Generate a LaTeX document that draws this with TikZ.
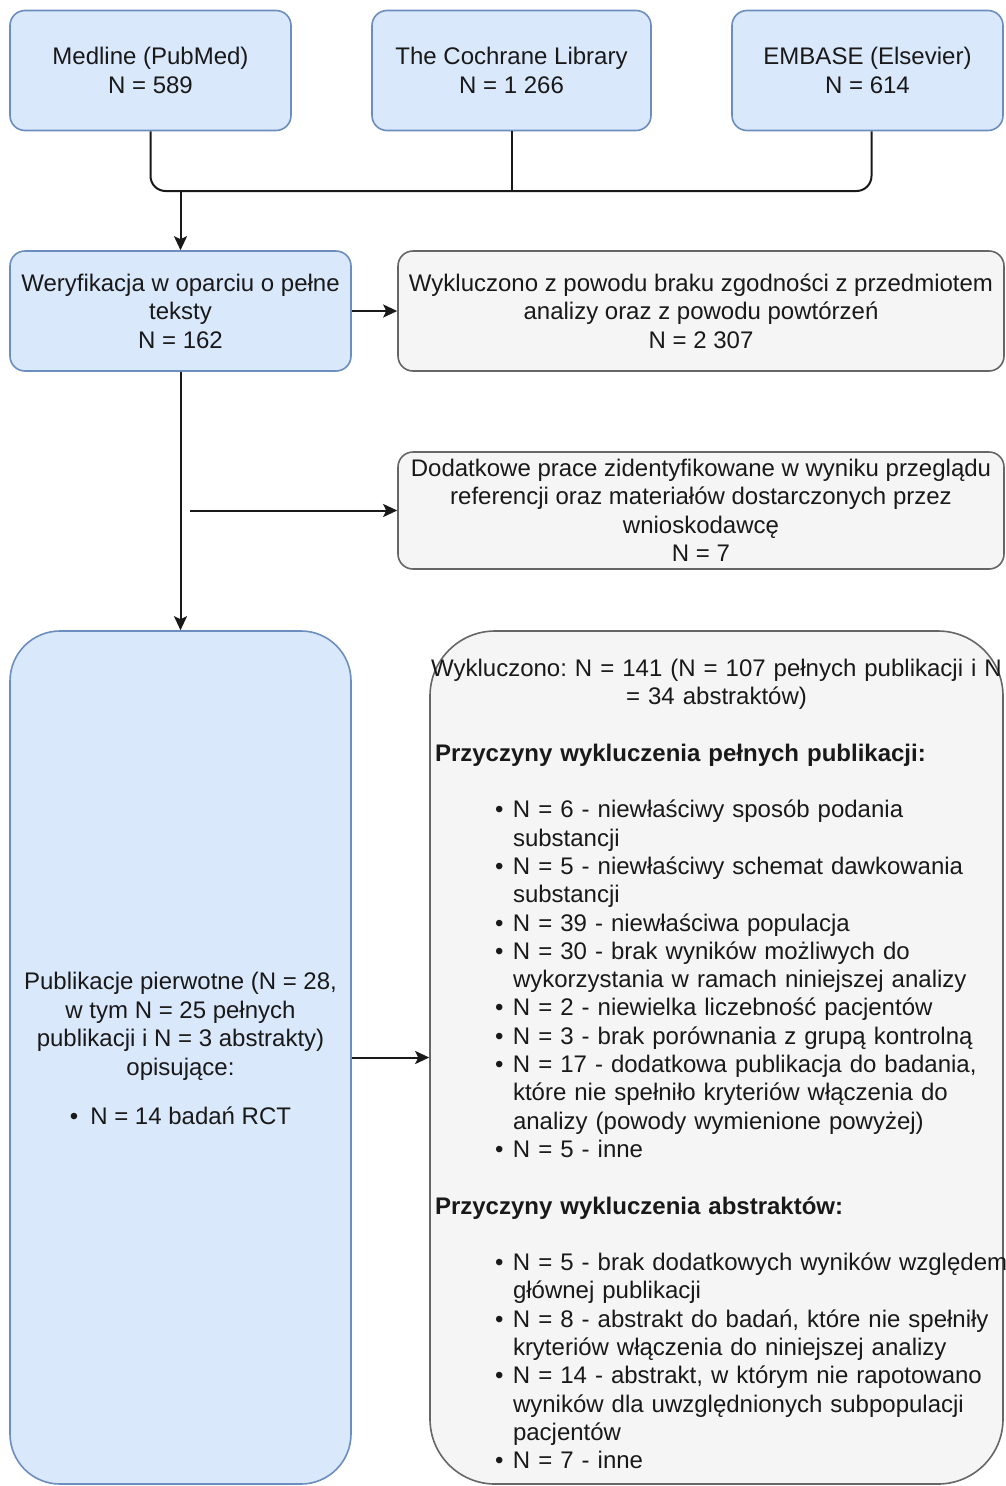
\documentclass[tikz,border=0pt]{standalone}
\usepackage{fontspec}
\setmainfont{Liberation Sans}
\usetikzlibrary{arrows.meta}
\usetikzlibrary{positioning}

\definecolor{boxblue}{HTML}{DAE8FC}
\definecolor{lineblue}{HTML}{6C8EBF}
\definecolor{boxgray}{HTML}{F5F5F5}
\definecolor{linegray}{HTML}{666666}

% bullet line and continuation line of the lists
\newcommand{\bul}[1]{\hspace*{60pt}\makebox[18pt][l]{\textbullet}\mbox{#1}}
\newcommand{\cont}[1]{\hspace*{78pt}\mbox{#1}}

\begin{document}
\frenchspacing
\begin{tikzpicture}[
        x = 1pt, y = -1pt,
        every node/.style = {font = \fontsize{24}{28.5}\selectfont, text = black!90},
        srcbox/.style = {draw = lineblue, fill = boxblue, line width = 1.6pt, rounded corners = 15pt, align = center, inner sep = 3pt},
        exclbox/.style = {draw = linegray, fill = boxgray, line width = 1.6pt, rounded corners = 15pt, align = center, inner sep = 3pt},
        conn/.style = {line width = 2pt, black!90},
        arr/.style = {conn, -{Stealth[length = 14pt, width = 13pt, inset = 3pt]}},
        ]
    \useasboundingbox (0,0) rectangle (1005,1486);

    % sources
    \node[srcbox, minimum width = 281, minimum height = 120] (med) at (150.5,70.5) {Medline (PubMed)\\N = 589};
    \node[srcbox, minimum width = 279, minimum height = 120] (coch) at (511.5,70.5) {The Cochrane Library\\N = 1 266};
    \node[srcbox, minimum width = 271, minimum height = 120] (emb) at (867.5,70.5) {EMBASE (Elsevier)\\N = 614};

    \node[srcbox, minimum width = 341, minimum height = 120] (wer) at (180.5,311) {Weryfikacja w oparciu o pełne\\teksty\\N = 162};
    \node[exclbox, minimum width = 606, minimum height = 120] (wyk) at (701,311)
        {Wykluczono z powodu braku zgodności z przedmiotem\\analizy oraz z powodu powtórzeń\\N = 2 307};
    \node[exclbox, minimum width = 606, minimum height = 117] (dod) at (701,510.5)
        {Dodatkowe prace zidentyfikowane w wyniku przeglądu\\referencji oraz materiałów dostarczonych przez\\wnioskodawcę\\N = 7};

    \node[srcbox, rounded corners = 50pt, minimum width = 341, minimum height = 853] (pub) at (180.5,1057.5)
        {Publikacje pierwotne (N = 28,\\w tym N = 25 pełnych\\publikacji i N = 3 abstrakty)\\opisujące:\\[21pt]
         \textbullet\hspace{12pt}N = 14 badań RCT\par\vspace{18pt}};

    \node[exclbox, rounded corners = 65pt, minimum width = 573, minimum height = 853,
          text width = 563pt, align = left, inner xsep = 5pt,
          font = \fontsize{24}{28.3}\selectfont] (exc) at (716.5,1057.5) {%
        \vspace*{2pt}\par
        \makebox[563pt][c]{Wykluczono: N = 141 (N = 107 pełnych publikacji i N}\\
        \makebox[563pt][c]{= 34 abstraktów)}\\[28.3pt]
        \textbf{Przyczyny wykluczenia pełnych publikacji:}\\[28.3pt]
        \bul{N = 6 - niewłaściwy sposób podania}\\
        \cont{substancji}\\
        \bul{N = 5 - niewłaściwy schemat dawkowania}\\
        \cont{substancji}\\
        \bul{N = 39 - niewłaściwa populacja}\\
        \bul{N = 30 - brak wyników możliwych do}\\
        \cont{wykorzystania w ramach niniejszej analizy}\\
        \bul{N = 2 - niewielka liczebność pacjentów}\\
        \bul{N = 3 - brak porównania z grupą kontrolną}\\
        \bul{N = 17 - dodatkowa publikacja do badania,}\\
        \cont{które nie spełniło kryteriów włączenia do}\\
        \cont{analizy (powody wymienione powyżej)}\\
        \bul{N = 5 - inne}\\[28.3pt]
        \textbf{Przyczyny wykluczenia abstraktów:}\\[28.3pt]
        \bul{N = 5 - brak dodatkowych wyników względem}\\
        \cont{głównej publikacji}\\
        \bul{N = 8 - abstrakt do badań, które nie spełniły}\\
        \cont{kryteriów włączenia do niniejszej analizy}\\
        \bul{N = 14 - abstrakt, w którym nie rapotowano}\\
        \cont{wyników dla uwzględnionych subpopulacji}\\
        \cont{pacjentów}\\
        \bul{N = 7 - inne}};

    % connectors
    \coordinate (bus) at (511.5,191);
    \coordinate (fork) at (190,510.5);
    \draw[conn, rounded corners = 15pt] (med.south) |- (bus) -| ([xshift = 4pt]emb.south);
    \draw[conn] (coch.south) -- (bus);
    \draw[arr] (wer.north |- bus) -- (wer.north);
    \draw[arr] (wer.east) -- (wyk.west);
    \draw[arr] (wer.south) -- (pub.north);
    \draw[arr] (fork) -- (dod.west);
    \draw[arr] (pub.east) -- (exc.west);
\end{tikzpicture}
\end{document}
